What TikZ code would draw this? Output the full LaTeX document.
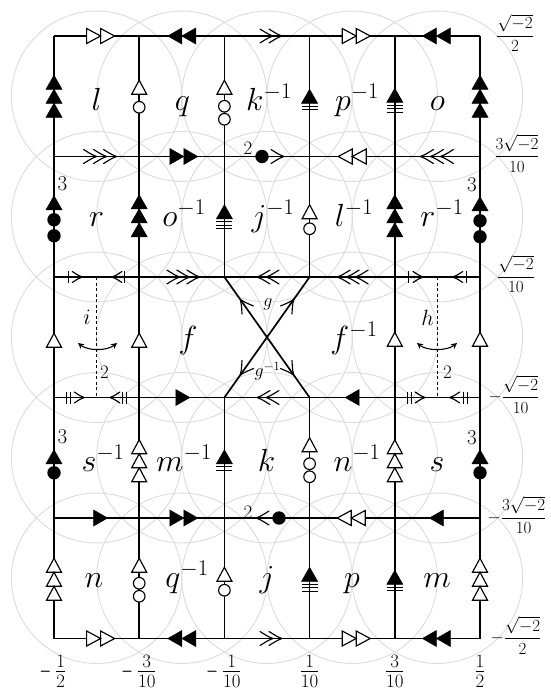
\documentclass[tikz,border=0pt]{standalone}
\usepackage{amsmath}
\usepackage{graphicx}
\DeclareFontShape{OML}{cmm}{m}{it}{<-6>cmmi5<6-7>cmmi6<7-8>cmmi7<8-9>cmmi8<9-10>cmmi9<10-12>cmmi10<12->cmmi12}{\skewchar\font=127 }
\DeclareFontShape{OMS}{cmsy}{m}{n}{<-6>cmsy5<6-7>cmsy6<7-8>cmsy7<8-9>cmsy8<9-10>cmsy9<10->cmsy10}{\skewchar\font=48 }
\DeclareFontShape{OT1}{cmr}{m}{n}{<-6>cmr5<6-7>cmr6<7-8>cmr7<8-9>cmr8<9-10>cmr9<10-12>cmr10<12-17>cmr12<17->cmr17}{}
\usetikzlibrary{decorations.markings,arrows.meta}
\newcommand\mkTf[1]{\filldraw[line width=0.5pt,line join=miter] (#1pt,0pt) -- (#1pt-14pt,8pt) -- (#1pt-14pt,-8pt) -- cycle;}
\newcommand\mkTo[1]{\draw[line width=1.15pt,fill=white,line join=miter,miter limit=5] (#1pt,0pt) -- (#1pt-14pt,7.5pt) -- (#1pt-14pt,-7.5pt) -- cycle;}
\newcommand\mkDot[1]{\fill (#1pt,0pt) circle (6.7pt);}
\newcommand\mkCir[1]{\draw[line width=1.15pt,fill=white] (#1pt,0pt) circle (5.8pt);}
\newcommand\mkBar[1]{\draw[line width=1.4pt] (#1pt,-8pt) -- (#1pt,8pt);}
\newcommand\mkTick[1]{\draw[line width=1.15pt] (#1pt,-6pt) -- (#1pt,6pt);}
\newcommand\mkChev[1]{\draw[line width=1.15pt,line cap=round,line join=round] (#1pt-13pt,7pt) .. controls (#1pt-5pt,2pt) .. (#1pt,0pt) .. controls (#1pt-5pt,-2pt) .. (#1pt-13pt,-7pt);}
\newcommand\mkChevS[1]{\draw[line width=1.15pt,line cap=round,line join=round] (#1pt-10pt,5.5pt) .. controls (#1pt-4pt,1.5pt) .. (#1pt,0pt) .. controls (#1pt-4pt,-1.5pt) .. (#1pt-10pt,-5.5pt);}
\tikzset{
  edge/.style={line width=1.7pt},
  mk/.style 2 args={postaction={decorate,decoration={markings,mark=at position #1 with {#2}}}},
  bgc/.style={draw=black!14,line width=0.9pt},
  cl/.style={font=\fontsize{32}{38}\selectfont,anchor=base,inner sep=0pt},
  num3/.style={font=\fontsize{21}{24}\selectfont,inner sep=0pt},
  num2/.style={font=\fontsize{19}{22}\selectfont,inner sep=0pt},
  gl/.style={font=\fontsize{18}{21}\selectfont,inner sep=0pt},
  il/.style={font=\fontsize{22}{26}\selectfont,inner sep=0pt},
  axr/.style={font=\fontsize{17}{20}\selectfont,anchor=base,inner sep=0pt},
  axb/.style={font=\fontsize{27}{31}\selectfont,anchor=base,inner sep=0pt},
  dsh/.style={line width=1.2pt,dash pattern=on 3pt off 2.5pt},
  swing/.style={line width=1.1pt,{Stealth[length=6pt,width=6pt]}-{Stealth[length=6pt,width=6pt]}}
}
\newcommand\smm{\mathord{\scalebox{0.55}[1]{$-$}}\hspace{4pt}}
\begin{document}
\begin{tikzpicture}[x={(1pt,0pt)},y={(0pt,-1pt)}]
\useasboundingbox (0,0) rectangle (551,691);
% grid points
\foreach \i/\x in {0/54,1/139.2,2/224.4,3/309.6,4/394.8,5/480}{
  \foreach \j/\y in {0/36,1/156.5,2/277,3/397.5,4/518,5/638.5}{
    \coordinate (p\i\j) at (\x,\y);
  }}
\coordinate (m02) at (96.6,277);
\coordinate (m03) at (96.6,397.5);
\coordinate (m42) at (437.4,277);
\coordinate (m43) at (437.4,397.5);
\coordinate (cc) at (267,337.25);
% background circles
\foreach \x in {96.6,181.8,267,352.2,437.4}{
  \foreach \y in {96.25,216.75,337.25,457.75,578.25}{
    \draw[bgc] (\x,\y) circle (85.2pt);
  }}
% row Y0
\draw[edge, mk={0.5}{\mkTo{18}\mkTo{4}}] (p00) -- (p10);
\draw[edge, mk={0.5}{\mkTf{14}\mkTf{0}}] (p20) -- (p10);
\draw[edge, mk={0.5}{\mkChev{15}\mkChev{6}}] (p20) -- (p30);
\draw[edge, mk={0.5}{\mkTo{18}\mkTo{4}}] (p30) -- (p40);
\draw[edge, mk={0.5}{\mkTf{15}\mkTf{1}}] (p50) -- (p40);
% row Y1
\draw[edge, mk={0.5}{\mkChev{20}\mkChev{10}\mkChev{0}}] (p01) -- (p11);
\draw[edge, mk={0.5}{\mkTf{16}\mkTf{2}}] (p11) -- (p21);
\draw[edge, mk={0.5}{\mkDot{-5}\mkChev{17}}] (p21) -- (p31);
\draw[edge, mk={0.5}{\mkTo{14}\mkTo{0}}] (p41) -- (p31);
\draw[edge, mk={0.5}{\mkChev{17}\mkChev{7}\mkChev{-3}}] (p51) -- (p41);
% row Y2
\draw[edge, mk={0.5}{\mkTick{-7}\mkChevS{7}}] (p02) -- (m02);
\draw[edge, mk={0.5}{\mkTick{-7}\mkChevS{6}}] (p12) -- (m02);
\draw[edge, mk={0.5}{\mkChev{18}\mkChev{8}\mkChev{-2}}] (p12) -- (p22);
\draw[edge, mk={0.5}{\mkChev{10}\mkChev{1}}] (p32) -- (p22);
\draw[edge, mk={0.5}{\mkChev{15}\mkChev{6}\mkChev{-3}}] (p42) -- (p32);
\draw[edge, mk={0.5}{\mkTick{-8}\mkChevS{7}}] (p42) -- (m42);
\draw[edge, mk={0.5}{\mkTick{-8}\mkChevS{6}}] (p52) -- (m42);
% row Y3
\draw[edge, mk={0.5}{\mkTick{-9}\mkTick{-5}\mkChevS{9}}] (p03) -- (m03);
\draw[edge, mk={0.5}{\mkTick{-9}\mkTick{-5}\mkChevS{8}}] (p13) -- (m03);
\draw[edge, mk={0.5}{\mkTf{8}}] (p13) -- (p23);
\draw[edge, mk={0.5}{\mkChev{10}\mkChev{1}}] (p33) -- (p23);
\draw[edge, mk={0.5}{\mkTf{7}}] (p43) -- (p33);
\draw[edge, mk={0.5}{\mkTick{-9}\mkTick{-5}\mkChevS{9}}] (p43) -- (m43);
\draw[edge, mk={0.5}{\mkTick{-9}\mkTick{-5}\mkChevS{9}}] (p53) -- (m43);
% row Y4
\draw[edge, mk={0.5}{\mkTf{11}}] (p04) -- (p14);
\draw[edge, mk={0.5}{\mkTf{16}\mkTf{2}}] (p14) -- (p24);
\draw[edge, mk={0.5}{\mkChev{11}\mkDot{-12}}] (p34) -- (p24);
\draw[edge, mk={0.5}{\mkTo{15}\mkTo{1}}] (p44) -- (p34);
\draw[edge, mk={0.5}{\mkTf{8}}] (p54) -- (p44);
% row Y5
\draw[edge, mk={0.5}{\mkTo{18}\mkTo{4}}] (p05) -- (p15);
\draw[edge, mk={0.5}{\mkTf{14}\mkTf{0}}] (p25) -- (p15);
\draw[edge, mk={0.5}{\mkChev{15}\mkChev{6}}] (p25) -- (p35);
\draw[edge, mk={0.5}{\mkTo{18}\mkTo{4}}] (p35) -- (p45);
\draw[edge, mk={0.5}{\mkTf{15}\mkTf{1}}] (p55) -- (p45);
% column X0
\draw[edge, mk={0.5}{\mkTf{21}\mkTf{7}\mkTf{-7}}] (p01) -- (p00);
\draw[edge, mk={0.5}{\mkTf{21}\mkDot{-3}\mkDot{-19}}] (p02) -- (p01);
\draw[edge, mk={0.5}{\mkTo{4}}] (p03) -- (p02);
\draw[edge, mk={0.5}{\mkTf{8}\mkDot{-15}}] (p04) -- (p03);
\draw[edge, mk={0.5}{\mkTo{20}\mkTo{6}\mkTo{-8}}] (p05) -- (p04);
% column X1
\draw[edge, mk={0.5}{\mkTo{16}\mkCir{-11}}] (p11) -- (p10);
\draw[edge, mk={0.5}{\mkTf{22}\mkTf{8}\mkTf{-6}}] (p12) -- (p11);
\draw[edge, mk={0.5}{\mkTo{4}}] (p13) -- (p12);
\draw[edge, mk={0.5}{\mkTo{18}\mkTo{4}\mkTo{-10}}] (p14) -- (p13);
\draw[edge, mk={0.5}{\mkTo{20}\mkCir{-5}\mkCir{-18}}] (p15) -- (p14);
% column X2
\draw[edge, mk={0.5}{\mkTo{16}\mkCir{-10}\mkCir{-23}}] (p21) -- (p20);
\draw[edge, mk={0.5}{\mkTf{12}\mkBar{-5}\mkBar{-8.5}\mkBar{-12}}] (p22) -- (p21);
\draw[edge, mk={0.5}{\mkTf{8}\mkBar{-9}\mkBar{-12.5}}] (p24) -- (p23);
\draw[edge, mk={0.5}{\mkTo{11}\mkCir{-12}}] (p25) -- (p24);
% column X3
\draw[edge, mk={0.5}{\mkTf{7}\mkBar{-10}\mkBar{-13.5}}] (p31) -- (p30);
\draw[edge, mk={0.5}{\mkTo{12}\mkCir{-12}}] (p32) -- (p31);
\draw[edge, mk={0.5}{\mkTo{20}\mkCir{-6}\mkCir{-19}}] (p34) -- (p33);
\draw[edge, mk={0.5}{\mkTf{11}\mkBar{-6}\mkBar{-9.5}\mkBar{-13}}] (p35) -- (p34);
% column X4
\draw[edge, mk={0.5}{\mkTf{8}\mkBar{-9}\mkBar{-12.5}\mkBar{-16}}] (p41) -- (p40);
\draw[edge, mk={0.5}{\mkTf{22}\mkTf{8}\mkTf{-6}}] (p42) -- (p41);
\draw[edge, mk={0.5}{\mkTo{5}}] (p43) -- (p42);
\draw[edge, mk={0.5}{\mkTo{18}\mkTo{4}\mkTo{-10}}] (p44) -- (p43);
\draw[edge, mk={0.5}{\mkTf{8}\mkBar{-9}\mkBar{-12.5}}] (p45) -- (p44);
% column X5
\draw[edge, mk={0.5}{\mkTf{21}\mkTf{7}\mkTf{-7}}] (p51) -- (p50);
\draw[edge, mk={0.5}{\mkTf{20}\mkDot{-4}\mkDot{-20}}] (p52) -- (p51);
\draw[edge, mk={0.5}{\mkTo{5}}] (p53) -- (p52);
\draw[edge, mk={0.5}{\mkTf{8}\mkDot{-15}}] (p54) -- (p53);
\draw[edge, mk={0.5}{\mkTo{20}\mkTo{6}\mkTo{-8}}] (p55) -- (p54);
% diagonals
\draw[edge, mk={0.63}{\mkChev{0}}] (cc) -- (p22);
\draw[edge, mk={0.63}{\mkChev{0}}] (cc) -- (p32);
\draw[edge, mk={0.63}{\mkChev{0}}] (cc) -- (p23);
\draw[edge, mk={0.63}{\mkChev{0}}] (cc) -- (p33);
% dashed lines and swings
\draw[dsh] (m02) -- (m03);
\draw[dsh] (m42) -- (m43);
\coordinate (ia) at (78,343); \coordinate (ib) at (117,343);
\coordinate (ha) at (417,343); \coordinate (hb) at (457,343);
\draw[swing] (ia) .. controls (88,351) and (107,351) .. (ib);
\draw[swing] (ha) .. controls (427,351) and (447,351) .. (hb);
% small labels
\node[il] (ti) at (87,317) {$i$};
\node[il] (th) at (427.5,317.5) {$h$};
\node[num2] (d2a) at (104.5,372.5) {$2$};
\node[num2] (d2b) at (447.5,372.5) {$2$};
\node[num2] (t2a) at (248,148.5) {$2$};
\node[num2] (t2b) at (248,512) {$2$};
\node[num3] (t3a) at (62.5,184) {$3$};
\node[num3] (t3b) at (62.5,436.5) {$3$};
\node[num3] (t3c) at (472,185) {$3$};
\node[num3] (t3d) at (472,438) {$3$};
\node[gl] (tg) at (268,304.5) {$g$};
\node[gl] (tgi) at (267.5,371) {$g^{-1}$};
% cell labels
\node[cl] (c00) at (96.6,110) {$l$};
\node[cl] (c10) at (182.5,110) {$q$};
\node[cl] (c20) at (269,110) {$k^{-1}$};
\node[cl] (c30) at (357,110) {$p^{-1}$};
\node[cl] (c40) at (437.4,110) {$o$};
\node[cl] (c01) at (96.6,226) {$r$};
\node[cl] (c11) at (184,226) {$o^{-1}$};
\node[cl] (c21) at (273,226) {$j^{-1}$};
\node[cl] (c31) at (354,226) {$l^{-1}$};
\node[cl] (c41) at (442,226) {$r^{-1}$};
\node[cl] (c12) at (188,348) {$f$};
\node[cl] (c32) at (354,348) {$f^{-1}$};
\node[cl] (c03) at (103,471) {$s^{-1}$};
\node[cl] (c13) at (184,471) {$m^{-1}$};
\node[cl] (c23) at (266.5,471) {$k$};
\node[cl] (c33) at (357,471) {$n^{-1}$};
\node[cl] (c43) at (437,471) {$s$};
\node[cl] (c04) at (94,587) {$n$};
\node[cl] (c14) at (187,587) {$q^{-1}$};
\node[cl] (c24) at (267,587) {$j$};
\node[cl] (c34) at (352,587) {$p$};
\node[cl] (c44) at (437,587) {$m$};
% right axis labels
\node[axr] (r0) at (515,40.2) {$\dfrac{\sqrt{-2}}{2}$};
\node[axr] (r1) at (517,160.7) {$\dfrac{3\sqrt{-2}}{10}$};
\node[axr] (r2) at (516,281.2) {$\dfrac{\sqrt{-2}}{10}$};
\node[axr] (r3) at (514,401.7) {$-\dfrac{\sqrt{-2}}{10}$};
\node[axr] (r4) at (517,522.2) {$-\dfrac{3\sqrt{-2}}{10}$};
\node[axr] (r5) at (516,642.7) {$-\dfrac{\sqrt{-2}}{2}$};
% bottom axis labels
\node[axb] (b0) at (53,678) {$\smm\frac{1}{2}$};
\node[axb] (b1) at (139,678) {$\smm\frac{3}{10}$};
\node[axb] (b2) at (224,678) {$\smm\frac{1}{10}$};
\node[axb] (b3) at (309.6,678) {$\frac{1}{10}$};
\node[axb] (b4) at (394.8,678) {$\frac{3}{10}$};
\node[axb] (b5) at (480,678) {$\frac{1}{2}$};
\end{tikzpicture}
\end{document}
